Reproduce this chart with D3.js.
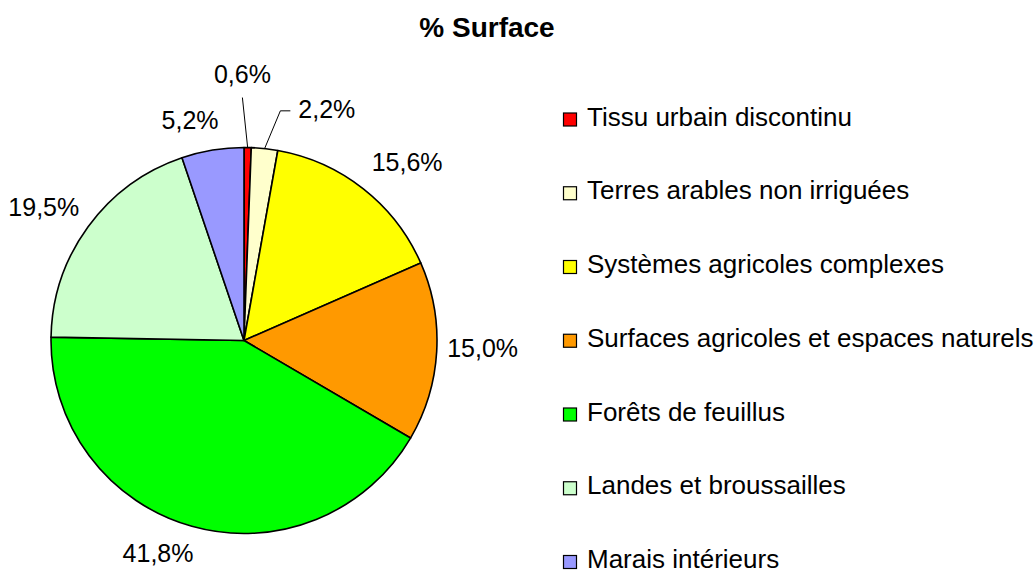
<!DOCTYPE html>
<html>
<head>
<meta charset="utf-8">
<script src="https://cdn.jsdelivr.net/npm/d3@7"></script>
<style>
  body { margin: 0; background: #fff; }
  text { font-family: "Liberation Sans", Arial, sans-serif; fill: #000; }
</style>
</head>
<body>
<div id="chart"></div>
<script>
/* Pie chart: % Surface by land cover */

const categories = [
    "Tissu urbain discontinu",
    "Terres arables non irriguées",
    "Systèmes agricoles complexes",
    "Surfaces agricoles et espaces naturels",
    "Forêts de feuillus",
    "Landes et broussailles",
    "Marais intérieurs"
];
const values = [0.6, 2.2, 15.6, 15.0, 41.8, 19.5, 5.2];
const colors = ["#FF0000", "#FFFFCC", "#FFFF00", "#FF9900", "#00FF00", "#CCFFCC", "#9999FF"];

// label nudges away from the default spot (Excel "best fit" placement)
const labelNudge = [[-6, -34], [58, 0], [19, 5], [6, -6], [-23, -12], [-12, 4], [-16, 9]];
const hasLeader = [true, true, false, false, false, false, false];

const width = 1036,
      height = 572,
      cx = 244, cy = 340.5,
      radius = 193;

let svg = d3.select("#chart")
    .append("svg")
    .attr("width", width)
    .attr("height", height);

// title
svg.append("text")
    .attr("x", 487)
    .attr("y", 37)
    .attr("text-anchor", "middle")
    .style("font-size", "28px")
    .style("font-weight", "bold")
    .text("% Surface");

let data = categories.map((c, i) => ({ name: c, value: values[i], color: colors[i] }));

let pie = d3.pie()
    .value(d => d.value)
    .sort(null); // keep original order, clockwise from the top

let arc = d3.arc().innerRadius(0).outerRadius(radius);

let g = svg.append("g").attr("transform", `translate(${cx},${cy})`);

let arcs = pie(data);

g.selectAll("path")
    .data(arcs)
    .join("path")
    .attr("d", arc)
    .attr("fill", d => d.data.color)
    .attr("stroke", "#000")
    .attr("stroke-width", 1.6)
    .attr("stroke-linejoin", "round");

// percentage labels
const fmt = v => v.toFixed(1).replace(".", ",") + "%";
const polar = (a, r) => [Math.sin(a) * r, -Math.cos(a) * r];

arcs.forEach((d, i) => {
    let mid = (d.startAngle + d.endAngle) / 2;
    let [lx, ly] = polar(mid, radius + 40);
    lx += labelNudge[i][0];
    ly += labelNudge[i][1];

    if (hasLeader[i]) {
        let [ax, ay] = polar(mid, radius);
        let pts;
        if (Math.abs(lx - ax) < 20) {
            pts = [[ax, ay], [lx, ly + 24]];
        } else {
            let left = lx - 28.5;
            pts = [[ax, ay], [left - 18, ly + 2], [left - 8, ly + 2]];
        }
        g.append("path")
            .attr("d", d3.line()(pts))
            .attr("fill", "none")
            .attr("stroke", "#000")
            .attr("stroke-width", 1);
    }

    g.append("text")
        .attr("x", lx)
        .attr("y", ly + 9)
        .attr("text-anchor", "middle")
        .style("font-size", "25px")
        .text(fmt(d.data.value));
});

// legend
let y = d3.scalePoint()
    .domain(categories)
    .range([119.5, 562]);

let legend = svg.selectAll(".legend")
    .data(data)
    .join("g")
    .attr("class", "legend")
    .attr("transform", d => `translate(563,${y(d.name)})`);

legend.append("rect")
    .attr("x", 0.5)
    .attr("y", -6.5)
    .attr("width", 13)
    .attr("height", 13)
    .attr("fill", d => d.color)
    .attr("stroke", "#000")
    .attr("stroke-width", 1.2);

legend.append("text")
    .attr("x", 24)
    .attr("y", 6)
    .style("font-size", "26px")
    .text(d => d.name);
</script>
</body>
</html>
